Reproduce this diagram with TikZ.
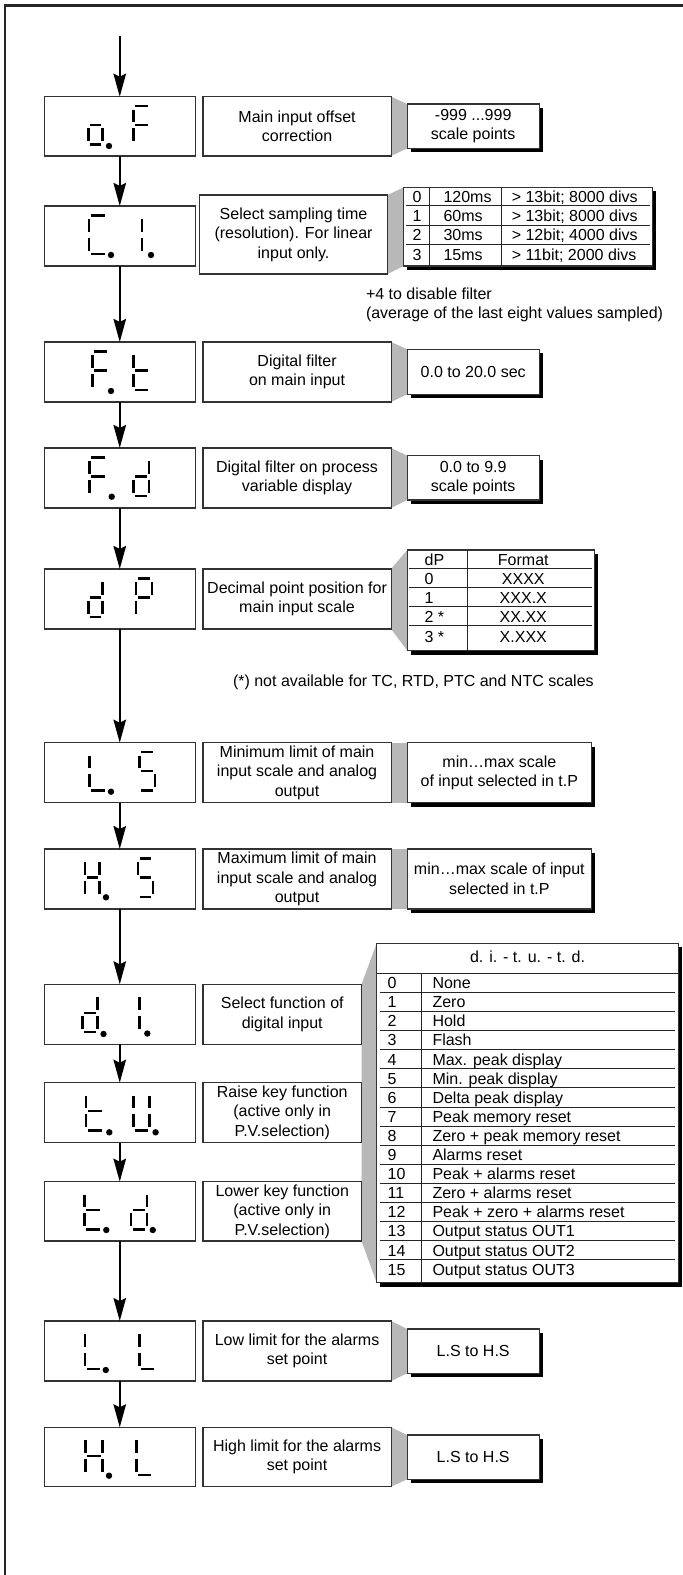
\documentclass[tikz,border=0pt]{standalone}
\usepackage{fontspec}
\setmainfont{Liberation Sans}
\usetikzlibrary{arrows.meta}
\pgfdeclarelayer{back}
\pgfdeclarelayer{bg}
\pgfsetlayers{back,bg,main}
\newcommand{\fsz}{\fontsize{16}{19.5}\selectfont}
\newcommand{\bx}[7]{\node[#6, minimum width={(#4-#2)*1pt}, minimum height={(#5-#3)*1pt}] (#1) at ({(#2+#4)/2},{(#3+#5)/2}) {#7};}
\newcommand{\segA}[3]{\draw[segline] ({#1+1.8},{#3+9.5}) -- ({#2-1.8},{#3+9.5});}
\newcommand{\segG}[3]{\draw[segline] ({#1+1.8},{#3+28.5}) -- ({#2-1.8},{#3+28.5});}
\newcommand{\segD}[3]{\draw[segline] ({#1+1.8},{#3+47.8}) -- ({#2-1.8},{#3+47.8});}
\newcommand{\segF}[3]{\draw[segline] (#1,{#3+13}) -- (#1,{#3+25.5});}
\newcommand{\segB}[3]{\draw[segline] (#2,{#3+13}) -- (#2,{#3+25.5});}
\newcommand{\segE}[3]{\draw[segline] (#1,{#3+31.5}) -- (#1,{#3+44.5});}
\newcommand{\segC}[3]{\draw[segline] (#2,{#3+31.5}) -- (#2,{#3+44.5});}
\newcommand{\glyph}[4]{\foreach \s in {#1}{\csname seg\s\endcsname{#2}{#3}{#4}}}
\newcommand{\sdot}[2]{\fill (#1,#2) circle[radius=3.2pt];}
\newcommand{\shad}[1]{\fill[black] ([xshift=3.5pt,yshift=-4pt]#1.south west) rectangle ([xshift=3.5pt,yshift=-4pt]#1.north east);}
\tikzset{
  boxbase/.style={draw=black!80, line width=1.1pt, fill=white, inner sep=0pt, outer sep=0pt, align=center, font=\fsz},
  disp/.style={boxbase},
  desc/.style={boxbase},
  val/.style={boxbase},
  conn/.style={fill=black!28},
  flow/.style={line width=2pt, -{Stealth[length=23pt, width=12.5pt, inset=3pt]}},
  segline/.style={line width=2.4pt, line cap=butt},
  tabline/.style={draw=black!85, line width=0.9pt},
  txt/.style={font=\fsz, inner sep=0pt, outer sep=0pt},
}
\begin{document}
\begin{tikzpicture}[x=1pt, y=-1pt]
\useasboundingbox (0,0) rectangle (683,1575);
\begin{pgfonlayer}{back}
\fill[white] (0,0) rectangle (683,1575);
\end{pgfonlayer}
% frame
\draw[line width=2.2pt, black!85] (5.3,1590) -- (5.3,5.5) -- (700,5.5);

% display boxes
\bx{d1}{44.4}{96.7}{195.1}{156}{disp}{}
\bx{d2}{44.4}{206}{195.1}{266}{disp}{}
\bx{d3}{44.4}{342}{195.1}{402}{disp}{}
\bx{d4}{44.4}{448}{195.1}{508}{disp}{}
\bx{d5}{44.4}{569}{195.1}{629}{disp}{}
\bx{d6}{44.4}{742.7}{195.1}{802.7}{disp}{}
\bx{d7}{44.4}{849}{195.1}{909}{disp}{}
\bx{d8}{44.4}{984.3}{195.1}{1044.3}{disp}{}
\bx{d9}{44.4}{1082.7}{195.1}{1142.7}{disp}{}
\bx{d10}{44.4}{1181.7}{195.1}{1241}{disp}{}
\bx{d11}{44.4}{1321}{195.1}{1381}{disp}{}
\bx{d12}{44.4}{1427.3}{195.1}{1486.7}{disp}{}

% description boxes
\bx{e1}{203}{96.7}{391.1}{156}{desc}{Main input offset\\correction}
\bx{e2}{199.5}{195}{387.6}{274}{desc}{Select sampling time\\(resolution). For linear\\input only.}
\bx{e3}{203}{342}{391.1}{402}{desc}{Digital filter\\on main input}
\bx{e4}{203}{448}{391.1}{508}{desc}{Digital filter on process\\variable display}
\bx{e5}{203}{569}{391.1}{629}{desc}{Decimal point position for\\main input scale}
\bx{e6}{203}{742.7}{391.1}{802.7}{desc}{Minimum limit of main\\input scale and analog\\output}
\bx{e7}{203}{849}{391.1}{909}{desc}{Maximum limit of main\\input scale and analog\\output}
\bx{e8}{203}{984.3}{361.5}{1044.3}{desc}{Select function of\\digital input}
\bx{e9}{203}{1082.7}{361.5}{1142.7}{desc}{Raise key function\\(active only in\\P.V.selection)}
\bx{e10}{203}{1181.7}{361.5}{1241}{desc}{Lower key function\\(active only in\\P.V.selection)}
\bx{e11}{203}{1321}{391.1}{1381}{desc}{Low limit for the alarms\\set point}
\bx{e12}{203}{1427.3}{391.1}{1486.7}{desc}{High limit for the alarms\\set point}

% value boxes and tables
\bx{v1}{407.2}{104}{539.2}{148.3}{val}{-999 ...999\\scale points}
\bx{t2}{403.7}{187.3}{652.5}{266}{val}{}
\bx{v3}{407.2}{349.3}{539.2}{394.3}{val}{0.0 to 20.0 sec}
\bx{v4}{407.2}{455.7}{539.2}{500}{val}{0.0 to 9.9\\scale points}
\bx{t5}{407.2}{550}{594.5}{650.5}{val}{}
\bx{v6}{407.2}{742.7}{591.5}{802.7}{val}{min…max scale\\of input selected in t.P}
\bx{v7}{407.2}{849}{591.5}{909}{val}{min…max scale of input\\selected in t.P}
\bx{t8}{376.7}{943.3}{678.3}{1282.7}{val}{}
\bx{v11}{407.2}{1329}{539.2}{1373.3}{val}{L.S to H.S}
\bx{v12}{407.2}{1435}{539.2}{1479.3}{val}{L.S to H.S}

% grey connectors and shadows
\begin{pgfonlayer}{bg}
\fill[conn] (e1.north east) -- (v1.north west) -- (v1.south west) -- (e1.south east) -- cycle;
\fill[conn] (e2.north east) -- (t2.north west) -- (t2.south west) -- (e2.south east) -- cycle;
\fill[conn] (e3.north east) -- (v3.north west) -- (v3.south west) -- (e3.south east) -- cycle;
\fill[conn] (e4.north east) -- (v4.north west) -- (v4.south west) -- (e4.south east) -- cycle;
\fill[conn] (e5.north east) -- (t5.north west) -- (t5.south west) -- (e5.south east) -- cycle;
\fill[conn] (e6.north east) -- (v6.north west) -- (v6.south west) -- (e6.south east) -- cycle;
\fill[conn] (e7.north east) -- (v7.north west) -- (v7.south west) -- (e7.south east) -- cycle;
\fill[conn] (e8.north east) -- (t8.north west) -- (t8.south west) -- (e10.south east) -- cycle;
\fill[conn] (e11.north east) -- (v11.north west) -- (v11.south west) -- (e11.south east) -- cycle;
\fill[conn] (e12.north east) -- (v12.north west) -- (v12.south west) -- (e12.south east) -- cycle;
\foreach \v in {v1,t2,v3,v4,t5,v6,v7,t8,v11,v12}{\shad{\v}}
\end{pgfonlayer}

% flow arrows
\coordinate (start) at (119.75,36);
\draw[flow] (start) -- (d1.north);
\foreach \a/\b in {d1/d2,d2/d3,d3/d4,d4/d5,d5/d6,d6/d7,d7/d8,d8/d9,d9/d10,d10/d11,d11/d12}{
  \draw[flow] (\a.south) -- (\b.north);
}

% seven-segment glyphs
\glyph{C,D,E,G}{88.3}{102.3}{96.7}
\glyph{A,E,F,G}{133.3}{150}{96.7}
\sdot{109}{146}
\glyph{A,D,E,F}{89}{106.5}{206}
\glyph{E,F}{141.7}{150}{206}
\sdot{111}{255}\sdot{151}{255}
\glyph{A,E,F,G}{92.3}{108.5}{342}
\glyph{D,E,F,G}{133.3}{150}{342}
\sdot{111}{391}
\glyph{A,E,F,G}{89.3}{106.5}{448}
\glyph{B,C,D,E,G}{133.3}{149}{448}
\sdot{111.7}{496.7}
\glyph{B,C,D,E,G}{88.3}{102.3}{569}
\glyph{A,B,E,F,G}{135.7}{151.7}{569}
\glyph{D,E,F}{89.3}{106.5}{742.7}
\glyph{A,C,D,F,G}{139.3}{155}{742.7}
\sdot{111}{791.7}
\glyph{B,C,E,F,G}{85}{99.3}{849}
\glyph{A,C,D,F,G}{137.7}{152.7}{849}
\sdot{106}{897.3}
\glyph{B,C,D,E,G}{82.3}{97.5}{984.3}
\glyph{E,F}{139.3}{150}{984.3}
\sdot{103.5}{1034}\sdot{147.3}{1033.5}
\glyph{D,E,F,G}{85.7}{103.3}{1082.7}
\glyph{B,C,D,E,F}{133.5}{149.5}{1082.7}
\sdot{109.3}{1132.3}\sdot{155.6}{1132.3}
\glyph{D,E,F,G}{84.5}{101.5}{1181.7}
\glyph{B,C,D,E,G}{130.8}{146.7}{1181.7}
\sdot{106.3}{1230}\sdot{152.8}{1230}
\glyph{D,E,F}{85}{102}{1321}
\glyph{D,E,F}{139.4}{155.5}{1321}
\sdot{105.8}{1370}
\glyph{B,C,E,F,G}{85.5}{102.5}{1427.3}
\glyph{D,E,F}{136.5}{153.2}{1427.3}
\sdot{109}{1475.7}

% table 2 (sampling time)
\draw[tabline] (429.5,187.3) -- (429.5,266);
\draw[tabline] (501,187.3) -- (501,266);
\foreach \yy in {205.5,225,244.5}{\draw[tabline] (406,\yy) -- (650,\yy);}
\node[txt, anchor=base] (s0a) at (417,202.5) {0};
\node[txt, anchor=base west] (s0b) at (443.5,202.5) {120ms};
\node[txt, anchor=base west] (s0c) at (511.8,202.5) {> 13bit; 8000 divs};
\node[txt, anchor=base] (s1a) at (417,221.8) {1};
\node[txt, anchor=base west] (s1b) at (443.5,221.8) {60ms};
\node[txt, anchor=base west] (s1c) at (511.8,221.8) {> 13bit; 8000 divs};
\node[txt, anchor=base] (s2a) at (417,240.8) {2};
\node[txt, anchor=base west] (s2b) at (443.5,240.8) {30ms};
\node[txt, anchor=base west] (s2c) at (511.8,240.8) {> 12bit; 4000 divs};
\node[txt, anchor=base] (s3a) at (417,260.8) {3};
\node[txt, anchor=base west] (s3b) at (443.5,260.8) {15ms};
\node[txt, anchor=base west] (s3c) at (511.8,260.8) {> 11bit; 2000 divs};

\node[txt, anchor=base west] (n1) at (366,299.1) {+4 to disable filter};
\node[txt, anchor=base west] (n2) at (366,318.5) {(average of the last eight values sampled)};

% table 5 (decimal point)
\draw[tabline] (467,550) -- (467,650.5);
\foreach \yy in {568.3,587.3,606.5,625.7}{\draw[tabline] (409.4,\yy) -- (592.3,\yy);}
\node[txt, anchor=base west] (p0a) at (424.6,565.1) {dP};
\node[txt, anchor=base] (p0b) at (523.3,565.1) {Format};
\node[txt, anchor=base west] (p1a) at (424.6,584.1) {0};
\node[txt, anchor=base] (p1b) at (523.3,584.1) {XXXX};
\node[txt, anchor=base west] (p2a) at (424.6,603.5) {1};
\node[txt, anchor=base] (p2b) at (523.3,603.5) {XXX.X};
\node[txt, anchor=base west] (p3a) at (424.6,622.5) {2 *};
\node[txt, anchor=base] (p3b) at (523.3,622.5) {XX.XX};
\node[txt, anchor=base west] (p4a) at (424.6,642.5) {3 *};
\node[txt, anchor=base] (p4b) at (523.3,642.5) {X.XXX};

\node[txt, anchor=base west] (n3) at (233,686.5) {(*) not available for TC, RTD, PTC and NTC scales};

% table 8 (digital input functions)
\draw[tabline] (376.7,973.3) -- (678.3,973.3);
\draw[tabline] (421.6,973.3) -- (421.6,1282.7);
\foreach \k in {1,...,15}{\draw[tabline] (379.8,{973.3+19.1*\k}) -- (675,{973.3+19.1*\k});}
\node[txt, anchor=base] (fh) at (527.5,962.5) {d. i. - t. u. - t. d.};
\foreach \n/\t [count=\k from 0] in {0/None,1/Zero,2/Hold,3/Flash,4/Max. peak display,5/Min. peak display,6/Delta peak display,7/Peak memory reset,8/Zero + peak memory reset,9/Alarms reset,10/Peak + alarms reset,11/Zero + alarms reset,12/Peak + zero + alarms reset,13/Output status OUT1,14/Output status OUT2,15/Output status OUT3}{
  \node[txt, anchor=base west] (fn\k) at (387.6,{973.3+19.1*(\k+0.5)+5.8}) {\n};
  \node[txt, anchor=base west] (ft\k) at (432.5,{973.3+19.1*(\k+0.5)+5.8}) {\t};
}
\end{tikzpicture}
\end{document}
